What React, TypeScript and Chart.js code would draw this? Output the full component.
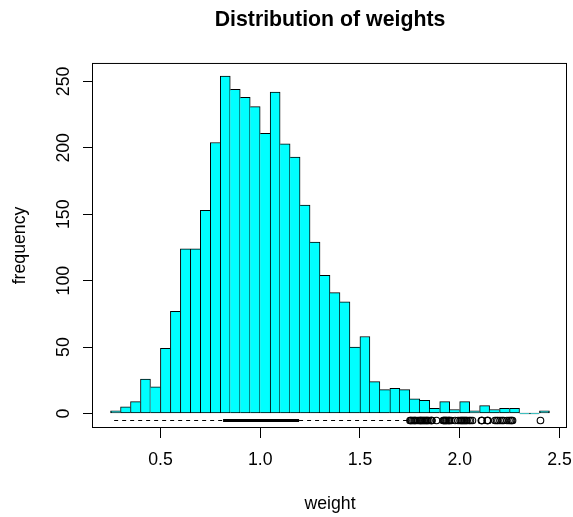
import { useEffect, useRef } from "react";
import { Chart, registerables } from "chart.js";

Chart.register(...registerables);

// Histogram bin edges (weight) and counts per bin
const binEdges = [
  0.25, 0.3, 0.35, 0.4, 0.45, 0.5, 0.55, 0.6, 0.65, 0.7, 0.75, 0.8, 0.85, 0.9, 0.95,
  1.0, 1.05, 1.1, 1.15, 1.2, 1.25, 1.3, 1.35, 1.4, 1.45, 1.5, 1.55, 1.6, 1.65, 1.7,
  1.75, 1.8, 1.85, 1.9, 1.95, 2.0, 2.05, 2.1, 2.15, 2.2, 2.25, 2.3, 2.35, 2.4, 2.45,
];
const counts = [
  2, 5, 9, 26, 20, 49, 77, 124, 124, 153, 204, 254, 244, 238, 231, 211, 242, 203, 193,
  157, 129, 104, 91, 84, 50, 58, 24, 18, 19, 18, 11, 10, 4, 9, 3, 9, 2, 6, 3, 4, 4, 0,
  0, 2,
];

// Boxplot summary drawn under the histogram
const boxplotAt = -5.25;
const whiskerLow = 0.268;
const boxLow = 0.814;
const boxHigh = 1.195;
const whiskerHigh = 1.74;
const outliers = [
  1.751, 1.755, 1.759, 1.766, 1.772, 1.776, 1.781, 1.791, 1.799,
  1.803, 1.806, 1.811, 1.816, 1.821, 1.826, 1.831, 1.836, 1.839, 1.846,
  1.856, 1.859, 1.861, 1.884,
  1.917, 1.921, 1.924, 1.928, 1.932, 1.936, 1.942, 1.947, 1.949,
  1.957, 1.977, 1.992,
  2.002, 2.008, 2.012, 2.017, 2.022, 2.027, 2.032, 2.037, 2.047,
  2.054, 2.064,
  2.109, 2.11, 2.112, 2.138, 2.14, 2.142,
  2.177, 2.185, 2.192,
  2.202, 2.212, 2.22, 2.237,
  2.247, 2.255, 2.26, 2.265,
  2.405,
];

const xTicks = [0.5, 1.0, 1.5, 2.0, 2.5];
const xTickLabels = ["0.5", "1.0", "1.5", "2.0", "2.5"];
const yTicks = [0, 50, 100, 150, 200, 250];
const yTickLabels = ["0", "50", "100", "150", "200", "250"];

const FONT = "'Liberation Sans', Arial, sans-serif";

const framePlugin = {
  id: "frame",
  afterDatasetsDraw(chart: any) {
    const { ctx, chartArea } = chart;
    const { left, top, right, bottom } = chartArea;
    ctx.save();
    ctx.strokeStyle = "#000";
    ctx.lineWidth = 1;
    ctx.strokeRect(left - 0.5, top + 0.5, right - left, bottom - top - 1);
    ctx.restore();
  },
};

export default function App() {
  const ref = useRef<HTMLCanvasElement | null>(null);

  useEffect(() => {
    if (!ref.current) return;
    const centers = counts.map((_, i) => (binEdges[i] + binEdges[i + 1]) / 2);
    const barData = centers.map((c, i) => ({ x: c, y: counts[i] }));

    const chart = new Chart(ref.current, {
      type: "bar",
      data: {
        datasets: [
          {
            type: "bar",
            data: barData as any,
            backgroundColor: "#00FFFF",
            borderColor: "#000",
            borderSkipped: false,
            minBarLength: 1,
            barPercentage: 1,
            categoryPercentage: 1,
            borderWidth: ((ctx: any) => {
              const i = ctx.dataIndex;
              const v = counts[i];
              const prev = i > 0 ? counts[i - 1] : -1;
              const next = i < counts.length - 1 ? counts[i + 1] : -1;
              return { top: 1, bottom: 1, left: v >= prev ? 1 : 0, right: v > next ? 1 : 0 };
            }) as any,
          } as any,
          {
            type: "line",
            data: [
              { x: whiskerLow, y: boxplotAt },
              { x: boxLow, y: boxplotAt },
            ],
            borderColor: "#000",
            borderWidth: 1,
            borderDash: [4, 4],
            pointRadius: 0,
          } as any,
          {
            type: "line",
            data: [
              { x: boxLow, y: boxplotAt },
              { x: boxHigh, y: boxplotAt },
            ],
            borderColor: "#000",
            borderWidth: 3,
            pointRadius: 0,
          } as any,
          {
            type: "line",
            data: [
              { x: boxHigh, y: boxplotAt },
              { x: whiskerHigh, y: boxplotAt },
            ],
            borderColor: "#000",
            borderWidth: 1,
            borderDash: [4, 4],
            pointRadius: 0,
          } as any,
          {
            type: "scatter",
            data: outliers.map((x) => ({ x, y: boxplotAt })),
            showLine: false,
            pointRadius: 3.3,
            pointBorderWidth: 1.1,
            pointBorderColor: "#000",
            pointBackgroundColor: "rgba(0,0,0,0)",
          } as any,
        ],
      },
      options: {
        animation: false,
        responsive: false,
        devicePixelRatio: 1,
        events: [],
        layout: {
          autoPadding: false,
          padding: { left: 0, right: 6, top: 0, bottom: 0 },
        } as any,
        plugins: {
          legend: { display: false },
          tooltip: { enabled: false },
          title: {
            display: true,
            text: "Distribution of weights",
            color: "#000",
            fullSize: false,
            font: { family: FONT, size: 21.3, weight: "bold" },
            padding: { top: 7.7, bottom: 29.7 },
          } as any,
        },
        scales: {
          x: {
            type: "linear",
            min: 0.162,
            max: 2.538,
            offset: false,
            afterBuildTicks: (s: any) => {
              s.ticks = xTicks.map((v) => ({ value: v }));
            },
            afterFit: (s: any) => {
              s.height = 89;
              s.paddingLeft = 0;
              s.paddingRight = 0;
              s.paddingTop = 0;
              s.paddingBottom = 0;
            },
            ticks: {
              autoSkip: false,
              maxRotation: 0,
              color: "#000",
              padding: 11,
              font: { family: FONT, size: 17.7 },
              callback: (v: any) => {
                const i = xTicks.indexOf(Number(v));
                return i >= 0 ? xTickLabels[i] : "";
              },
            },
            grid: {
              offset: false,
              drawOnChartArea: false,
              drawTicks: true,
              tickLength: 10,
              color: "#000",
              lineWidth: 1,
            },
            border: { display: false },
            title: {
              display: true,
              text: "weight",
              color: "#000",
              font: { family: FONT, size: 17.7 },
              padding: { top: 0, bottom: 2 },
            },
          } as any,
          y: {
            type: "linear",
            min: -10.9,
            max: 263.9,
            afterBuildTicks: (s: any) => {
              s.ticks = yTicks.map((v) => ({ value: v }));
            },
            afterFit: (s: any) => {
              s.width = 93;
              s.paddingLeft = 0;
              s.paddingRight = 0;
              s.paddingTop = 0;
              s.paddingBottom = 0;
            },
            ticks: {
              autoSkip: false,
              minRotation: 90,
              maxRotation: 90,
              crossAlign: "center",
              color: "#000",
              padding: 4.2,
              font: { family: FONT, size: 17.7 },
              callback: (v: any) => {
                const i = yTicks.indexOf(Number(v));
                return i >= 0 ? yTickLabels[i] : "";
              },
            },
            grid: {
              offset: false,
              drawOnChartArea: false,
              drawTicks: true,
              tickLength: 10,
              color: "#000",
              lineWidth: 1,
            },
            border: { display: false },
            title: {
              display: true,
              text: "frequency",
              color: "#000",
              font: { family: FONT, size: 17.7 },
              padding: { top: 9.5, bottom: 0 },
            },
          } as any,
        },
      },
      plugins: [framePlugin],
    });
    return () => chart.destroy();
  }, []);

  return (
    <div style={{ position: "absolute", left: 0, top: 0, width: 573, height: 517, background: "#fff" }}>
      <canvas ref={ref} width={573} height={517} style={{ display: "block" }} />
    </div>
  );
}
